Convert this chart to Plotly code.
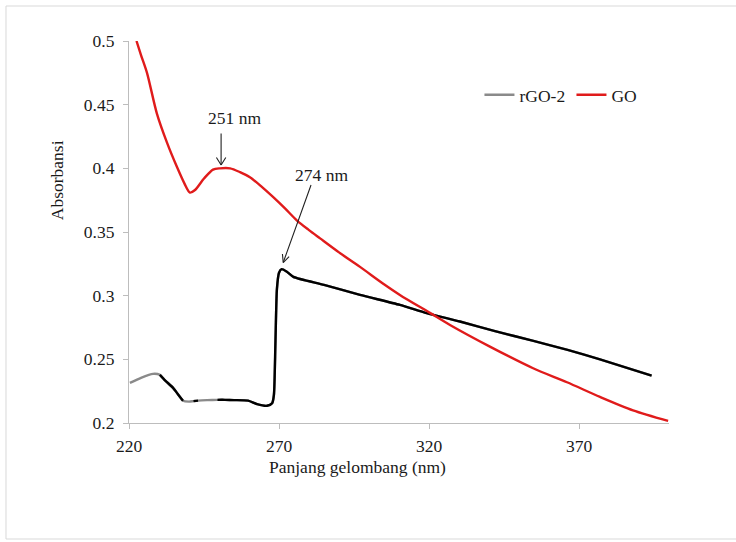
import plotly.graph_objects as go

# ---------------- data ----------------
go_wavelength = [222.5, 224, 226, 229.3, 232.7, 236, 238.5, 240.3, 242, 245, 248, 250.3,
                 253.7, 257, 260.3, 264, 268, 272, 276, 280, 283.7, 290, 297, 305, 310.3,
                 320.3, 327, 340.3, 354.7, 366, 377, 388, 399.7]
go_absorb = [0.500, 0.489, 0.475, 0.443, 0.420, 0.401, 0.388, 0.381, 0.383, 0.392, 0.399, 0.400,
             0.400, 0.397, 0.393, 0.386, 0.3775, 0.3685, 0.3590, 0.3515, 0.345, 0.334, 0.3226, 0.309,
             0.3006, 0.2865, 0.277, 0.260, 0.243, 0.232, 0.2205, 0.210, 0.2017]

rgo_wavelength = [220.3, 224, 228, 230.3, 232, 234.7, 236.5, 238.0, 240.0, 241.5, 243.0, 246,
                  249.5, 252, 255, 259.7, 262.7, 266, 267.7, 268.3, 268.8, 269.3, 270, 270.9,
                  272.5, 274.8, 285, 297, 310.3, 319.2, 330.3, 342, 354.8, 366.2, 377, 394.2]
rgo_absorb = [0.2315, 0.2355, 0.2386, 0.2378, 0.2335, 0.2276, 0.222, 0.2175, 0.2168, 0.2172, 0.2176, 0.2180,
              0.2182, 0.2182, 0.2180, 0.2176, 0.2148, 0.2135, 0.2155, 0.222, 0.262, 0.305, 0.318, 0.3208,
              0.319, 0.3148, 0.3085, 0.3006, 0.2927, 0.2863, 0.2797, 0.2722, 0.2645, 0.2574, 0.2500, 0.2372]
# parts of the rGO-2 curve drawn in black in the original
black_segments = [(230.3, 238.0), (241.5, 243.0), (249.5, 394.2)]

peak_labels = ["251 nm", "274 nm"]
x_ticks = [220, 270, 320, 370]
y_ticks = [0.2, 0.25, 0.3, 0.35, 0.4, 0.45, 0.5]

# ---------------- figure ----------------
FONT = "Liberation Serif, Times New Roman, serif"
TXT = "#1a1a1a"
FS = 17.5

black_y = [y if any(a <= x <= b for a, b in black_segments) else None
           for x, y in zip(rgo_wavelength, rgo_absorb)]

fig = go.Figure()
fig.add_trace(go.Scatter(x=rgo_wavelength, y=rgo_absorb, mode="lines", name="rGO-2",
                         line=dict(color="#8a8a8a", width=2.4, shape="spline", smoothing=0.6)))
fig.add_trace(go.Scatter(x=rgo_wavelength, y=black_y, mode="lines", showlegend=False,
                         connectgaps=False, hoverinfo="skip",
                         line=dict(color="#000000", width=2.4, shape="spline", smoothing=0.6)))
fig.add_trace(go.Scatter(x=go_wavelength, y=go_absorb, mode="lines", name="GO",
                         line=dict(color="#e01b1b", width=2.4, shape="spline", smoothing=0.8)))

# arrows (open V heads built from short line annotations)
def arrow(x, y, ax, ay, wings):
    fig.add_annotation(x=x, y=y, ax=ax, ay=ay, text="", showarrow=True, arrowhead=0,
                       arrowwidth=1.1, arrowcolor="#222222", standoff=0, borderpad=0)
    for wx, wy in wings:
        fig.add_annotation(x=x, y=y, ax=wx, ay=wy, text="", showarrow=True, arrowhead=0,
                           arrowwidth=1.1, arrowcolor="#222222", standoff=0, borderpad=0)

arrow(250.7, 0.4026, 0, -32, [(-5, -8), (5, -8)])
arrow(271.4, 0.326, 28, -78, [(6.4, -6.4), (-0.8, -9)])

fig.add_annotation(x=255, y=0.4396, text=peak_labels[0], showarrow=False,
                   xanchor="center", yanchor="middle",
                   font=dict(family=FONT, size=FS, color=TXT))
fig.add_annotation(x=284, y=0.3948, text=peak_labels[1], showarrow=False,
                   xanchor="center", yanchor="middle",
                   font=dict(family=FONT, size=FS, color=TXT))

# axis titles
fig.add_annotation(xref="paper", yref="paper", x=-0.133, y=0.636, text="Absorbansi",
                   xanchor="center", yanchor="middle",
                   textangle=-90, showarrow=False, font=dict(family=FONT, size=FS, color=TXT))
fig.add_annotation(xref="paper", yref="paper", x=0.424, y=-0.115, text="Panjang gelombang (nm)",
                   xanchor="center", yanchor="middle",
                   showarrow=False, font=dict(family=FONT, size=FS, color=TXT))

# chart border
fig.add_shape(type="rect", xref="paper", yref="paper", x0=-0.2278, x1=1.25, y0=-0.3037, y1=1.0916,
              line=dict(color="#d9d9d9", width=1))

fig.update_layout(
    width=736, height=542,
    margin=dict(l=129, r=67, t=41, b=119),
    paper_bgcolor="white", plot_bgcolor="white",
    font=dict(family=FONT, size=FS, color=TXT),
    showlegend=True,
    legend=dict(orientation="h", x=0.649, y=0.859, xanchor="left", yanchor="middle",
                bgcolor="rgba(0,0,0,0)", font=dict(family=FONT, size=FS, color=TXT),
                entrywidth=47, entrywidthmode="pixels", tracegroupgap=0),
    xaxis=dict(range=[220, 400], tickvals=x_ticks, showgrid=False, zeroline=False,
               showline=True, linecolor="#bdbdbd", linewidth=1.2,
               ticks="outside", ticklen=5, tickcolor="#bdbdbd", ticklabelstandoff=2,
               tickfont=dict(family=FONT, size=FS, color=TXT)),
    yaxis=dict(range=[0.2, 0.5], tickvals=y_ticks, showgrid=False, zeroline=False,
               showline=True, linecolor="#bdbdbd", linewidth=1.2,
               ticks="outside", ticklen=5, tickcolor="#bdbdbd", ticklabelstandoff=5,
               tickfont=dict(family=FONT, size=FS, color=TXT)),
)

fig.write_html("out.html", config={"displayModeBar": False},
               post_script="document.body.style.margin='0';")
